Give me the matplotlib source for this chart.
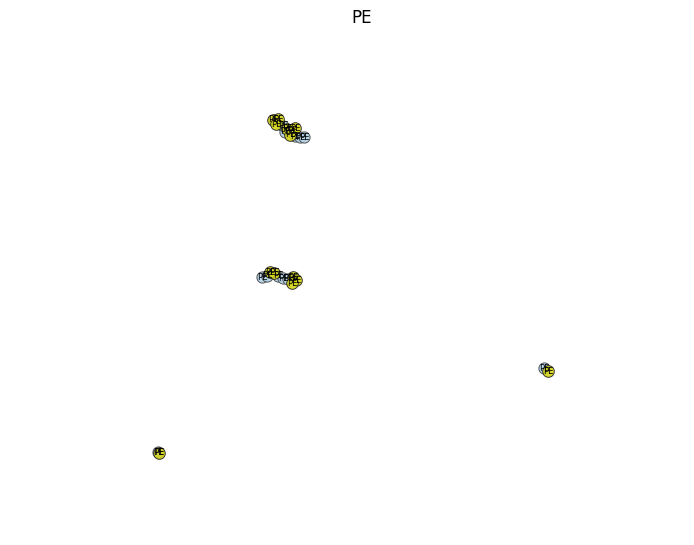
import matplotlib
matplotlib.use("Agg")
import matplotlib.pyplot as plt
import numpy as np

# embedding coordinates, per group
pe_x = [-2.47, -2.30, -2.37, -2.00, -1.83, -1.73, -1.90,
        -2.57, -2.43, -1.80, -1.70, -1.83, 6.70, -6.27]
pe_y = [5.07, 5.10, 4.93, 4.77, 4.73, 4.80, 4.57,
        0.00, -0.03, -0.17, -0.27, -0.37, -3.30, -6.03]
other_x = [-2.13, -2.07, -1.73, -1.57, -1.43,
           -2.83, -2.67, -2.30, -2.13, -1.97, 6.57, -6.30]
other_y = [4.87, 4.67, 4.53, 4.50, 4.50,
           -0.17, -0.13, -0.13, -0.20, -0.23, -3.20, -6.00]
pe_labels = ["PE"] * len(pe_x)
other_labels = ["PE"] * len(other_x)

fig = plt.figure(figsize=(6.94, 5.45), dpi=100)
ax = fig.add_axes([0, 0, 1, 1])

ax.scatter(other_x, other_y, s=65, c="#b3d3e8", edgecolors="#444444",
           linewidths=0.7, alpha=0.9, zorder=2)
ax.scatter(pe_x, pe_y, s=70, c="#d4d41a", edgecolors="#222222",
           linewidths=0.7, alpha=0.9, zorder=3)

for x, y, t in zip(other_x, other_y, other_labels):
    ax.text(x, y, t, fontsize=6, ha="center", va="center", zorder=4)
for x, y, t in zip(pe_x, pe_y, pe_labels):
    ax.text(x, y, t, fontsize=6, ha="center", va="center", zorder=5)

ax.set_xlim(-11.57, 11.57)
ax.set_ylim(-9.1, 9.07)
ax.axis("off")
fig.suptitle("PE", x=362 / 694, y=1 - 18 / 545, va="center", fontsize=12)

plt.savefig("out.png", dpi=100)
plt.close()
